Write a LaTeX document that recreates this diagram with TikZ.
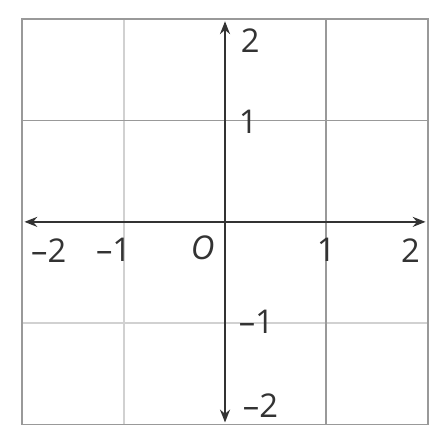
\documentclass[tikz,border=0pt]{standalone}
\usepackage{fontspec}
\setmainfont{Open Sans}
\usetikzlibrary{arrows.meta}
\definecolor{gridmid}{gray}{0.6}
\definecolor{gridpale}{gray}{0.82}
\definecolor{axisdark}{gray}{0.2}

\begin{document}
\begin{tikzpicture}[every node/.style={font=\fontsize{9.2}{11}\selectfont,inner sep=0pt,text=axisdark}]
    \useasboundingbox (-2.221,-2.19) rectangle (2.201,2.19);

    % grid
    \draw[gridpale,line width=0.5pt] (-1,-2) -- (-1,2) (-2,-1) -- (2,-1);
    \draw[gridmid,line width=0.5pt] (1,-2) -- (1,2) (-2,1) -- (2,1);
    \draw[gridmid,line width=0.5pt] (-2,-2) rectangle (2,2);

    % axes
    \coordinate (xl) at (-1.98,0);
    \coordinate (xr) at (1.98,0);
    \coordinate (yt) at (0,1.98);
    \coordinate (yb) at (0,-1.98);
    \path[every node/.style={}]
    (xl) [{Stealth[length=3.6pt,width=2.8pt]}-{Stealth[length=3.6pt,width=2.8pt]},axisdark,line width=0.65pt] edge (xr)
    (yb) [{Stealth[length=3.6pt,width=2.8pt]}-{Stealth[length=3.6pt,width=2.8pt]},axisdark,line width=0.65pt] edge (yt);

    % labels
    \node (xm2) at (-1.74,-0.28) {{--}2};
    \node (xm1) at (-1.10,-0.28) {{--}1};
    \node (o) at (-0.22,-0.26) {\itshape O};
    \node (xp1) at (1.00,-0.28) {1};
    \node (xp2) at (1.83,-0.28) {2};
    \node (yp2) at (0.25,1.79) {2};
    \node (yp1) at (0.23,0.99) {1};
    \node (ym1) at (0.31,-0.99) {{--}1};
    \node (ym2) at (0.35,-1.81) {{--}2};
\end{tikzpicture}
\end{document}
